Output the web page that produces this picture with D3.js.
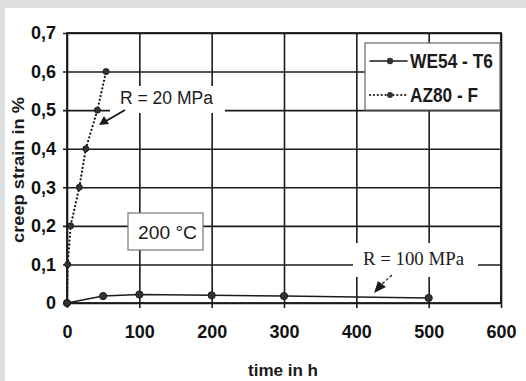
<!DOCTYPE html>
<html lang="en">
<head>
  <meta charset="UTF-8">
  <title>Creep strain vs time</title>
  <style>
    body {
      margin: 0;
      background: #dedfe1;
    }
    svg {
      display: block;
    }
    .tick text {
      font-family: 'Liberation Sans Narrow', 'Liberation Sans', sans-serif;
      font-weight: bold;
      font-size: 18px;
      fill: #111;
    }
  </style>
</head>
<body>
<svg width="526" height="381"></svg>

<script src="https://d3js.org/d3.v7.min.js"></script>
<script>
// series
const timeWE54 = [0, 50, 100, 200, 300, 500];
const strainWE54 = [0, 0.018, 0.022, 0.02, 0.018, 0.013];
const timeAZ80 = [0, 1, 5, 17, 26, 42, 54];
const strainAZ80 = [0, 0.1, 0.2, 0.3, 0.4, 0.5, 0.6];

const xTicks = [0, 100, 200, 300, 400, 500, 600];
const yTicks = [0, 0.1, 0.2, 0.3, 0.4, 0.5, 0.6, 0.7];
const seriesNames = ["WE54 - T6", "AZ80 - F"];

const svg = d3.select("svg");
const margin = {top: 33, right: 25, bottom: 78, left: 67};
const width = 526 - margin.left - margin.right;
const height = 381 - margin.top - margin.bottom;
const ink = "#1b1b1b";

// paper
svg.append("rect")
  .attr("x", 5).attr("y", 8)
  .attr("width", 521).attr("height", 373)
  .attr("fill", "#fff");

const g = svg.append("g").attr("transform", `translate(${margin.left},${margin.top})`);

const x = d3.scaleLinear().domain([0, 600]).range([0, width]);
const y = d3.scaleLinear().domain([0, 0.7]).range([height, 0]);

const fmt = d => d === 0 ? "0" : d3.format(".1f")(d).replace(".", ",");

// grid (extends a little beyond the frame like tick marks)
g.append("g")
  .attr("transform", `translate(0,${height + 5})`)
  .call(d3.axisBottom(x).tickValues(xTicks).tickSize(-(height + 5)).tickFormat(""))
  .call(a => a.select(".domain").remove())
  .selectAll("line").attr("stroke", ink).attr("stroke-width", 1.6);

g.append("g")
  .attr("transform", `translate(-4,0)`)
  .call(d3.axisLeft(y).tickValues(yTicks).tickSize(-(width + 4)).tickFormat(""))
  .call(a => a.select(".domain").remove())
  .selectAll("line").attr("stroke", ink).attr("stroke-width", 1.6);

g.append("rect")
  .attr("width", width).attr("height", height)
  .attr("fill", "none").attr("stroke", ink).attr("stroke-width", 1.8);

// tick labels
g.append("g")
  .attr("transform", `translate(0,${height})`)
  .call(d3.axisBottom(x).tickValues(xTicks).tickSize(0).tickPadding(22).tickFormat(d3.format("d")))
  .call(a => a.select(".domain").remove());

g.append("g")
  .call(d3.axisLeft(y).tickValues(yTicks).tickSize(0).tickPadding(11).tickFormat(fmt))
  .call(a => a.select(".domain").remove());

// white patches behind annotations (they cut the grid)
function patch(x0, y0, w, h) {
  g.append("rect")
    .attr("x", x0 - margin.left).attr("y", y0 - margin.top)
    .attr("width", w).attr("height", h).attr("fill", "#fff");
}
patch(110, 86, 115, 27);
patch(353, 243, 125, 34);

// lines
const line = d3.line().x(d => x(d[0])).y(d => y(d[1]));
const we54 = d3.zip(timeWE54, strainWE54);
const az80 = d3.zip(timeAZ80, strainAZ80);

g.append("path").datum(we54)
  .attr("d", line).attr("fill", "none")
  .attr("stroke", ink).attr("stroke-width", 1.6);

g.append("path").datum(az80)
  .attr("d", line).attr("fill", "none")
  .attr("stroke", ink).attr("stroke-width", 2.2)
  .attr("stroke-linecap", "round")
  .attr("stroke-dasharray", "0.1,3.8");

g.append("g").selectAll("circle").data(we54).join("circle")
  .attr("cx", d => x(d[0])).attr("cy", d => y(d[1]))
  .attr("r", 3.6).attr("fill", "#333").attr("stroke", ink);

g.append("g").selectAll("circle").data(az80).join("circle")
  .attr("cx", d => x(d[0])).attr("cy", d => y(d[1]))
  .attr("r", 3).attr("fill", "#333").attr("stroke", ink);

// annotation: R = 20 MPa
svg.append("text")
  .attr("x", 120).attr("y", 104)
  .attr("font-family", "'Liberation Sans', sans-serif")
  .attr("font-size", 18).attr("fill", ink)
  .attr("textLength", 93).attr("lengthAdjust", "spacingAndGlyphs")
  .text("R = 20 MPa");
svg.append("line")
  .attr("x1", 125).attr("y1", 110).attr("x2", 106).attr("y2", 121)
  .attr("stroke", ink).attr("stroke-width", 2);
svg.append("path")
  .attr("d", "M99,125 L104,116 L109,124 Z")
  .attr("fill", ink);

// annotation: R = 100 MPa
svg.append("text")
  .attr("x", 363).attr("y", 265)
  .attr("font-family", "'Liberation Serif', serif")
  .attr("font-size", 19).attr("fill", ink)
  .attr("textLength", 101).attr("lengthAdjust", "spacingAndGlyphs")
  .text("R = 100 MPa");
svg.append("line")
  .attr("x1", 392).attr("y1", 275).attr("x2", 382).attr("y2", 284)
  .attr("stroke", ink).attr("stroke-width", 1.2).attr("stroke-dasharray", "3,2");
svg.append("path")
  .attr("d", "M374,293 L378,281 L386,287 Z")
  .attr("fill", ink);

// 200 °C box
svg.append("rect")
  .attr("x", 128).attr("y", 213).attr("width", 75).attr("height", 37)
  .attr("fill", "#fff").attr("stroke", "#777").attr("stroke-width", 1.2);
svg.append("text")
  .attr("x", 138).attr("y", 239)
  .attr("font-family", "'Liberation Sans', sans-serif")
  .attr("font-size", 19).attr("fill", ink)
  .attr("textLength", 59).attr("lengthAdjust", "spacingAndGlyphs")
  .text("200 °C");

// legend
const lg = svg.append("g").attr("transform", "translate(365,43)");
lg.append("rect")
  .attr("width", 135).attr("height", 67)
  .attr("fill", "#fff").attr("stroke", "#666").attr("stroke-width", 1.2);
const rows = lg.selectAll("g.row").data(seriesNames).join("g")
  .attr("class", "row")
  .attr("transform", (d, i) => `translate(0,${18 + i * 34})`);
rows.append("line")
  .attr("x1", 5).attr("x2", 42)
  .attr("stroke", ink)
  .attr("stroke-width", (d, i) => i === 0 ? 1.6 : 2.2)
  .attr("stroke-linecap", "round")
  .attr("stroke-dasharray", (d, i) => i === 0 ? null : "0.1,3.8");
rows.append("circle")
  .attr("cx", 25).attr("r", (d, i) => i === 0 ? 3.2 : 3)
  .attr("fill", "#333");
rows.append("text")
  .attr("x", 45).attr("y", 7)
  .attr("font-family", "'Liberation Sans Narrow', 'Liberation Sans', sans-serif")
  .attr("font-weight", "bold")
  .attr("font-size", 20).attr("fill", ink)
  .attr("textLength", (d, i) => i === 0 ? 83 : 68)
  .attr("lengthAdjust", "spacingAndGlyphs")
  .text(d => d);

// axis titles
svg.append("text")
  .attr("x", 283).attr("y", 376)
  .attr("text-anchor", "middle")
  .attr("font-family", "'Liberation Sans', sans-serif")
  .attr("font-weight", "bold").attr("font-size", 16).attr("fill", ink)
  .attr("textLength", 70).attr("lengthAdjust", "spacingAndGlyphs")
  .text("time in h");

svg.append("text")
  .attr("transform", "translate(24,170) rotate(-90)")
  .attr("text-anchor", "middle")
  .attr("font-family", "'Liberation Sans', sans-serif")
  .attr("font-weight", "bold").attr("font-size", 16).attr("fill", ink)
  .attr("textLength", 146).attr("lengthAdjust", "spacingAndGlyphs")
  .text("creep strain in %");
</script>
</body>
</html>
